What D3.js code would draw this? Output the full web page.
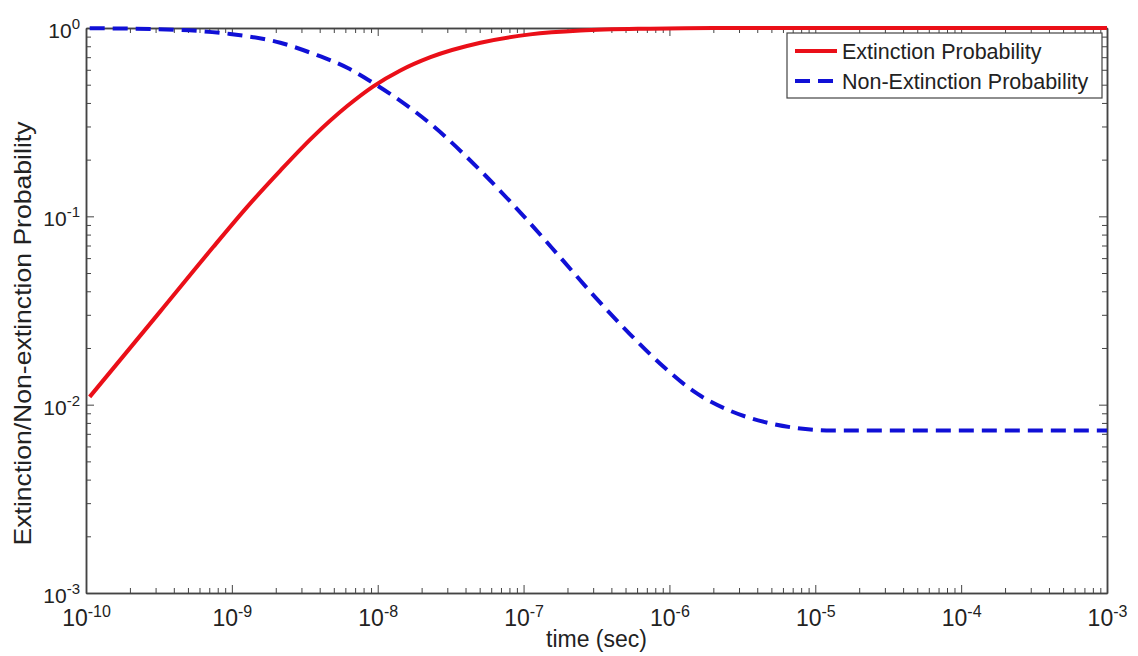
<!DOCTYPE html>
<html>
<head>
<meta charset="utf-8">
<script src="https://cdn.jsdelivr.net/npm/d3@7"></script>
<style>
  body { margin: 0; background: #fff; }
  svg text { font-family: "Liberation Sans", Arial, sans-serif; fill: #222; }
</style>
</head>
<body>
<svg id="chart"></svg>
<script>
// values (time in seconds, probability)
let extTime = [1.06e-10, 3.2e-10, 7.45e-10, 1.27e-9, 2.15e-9, 3.61e-9, 6.18e-9, 9.33e-9, 1.43e-8, 2.30e-8, 5.06e-8, 1.11e-7, 2.46e-7, 7.4e-7, 2e-6, 1e-3]
let extProb = [0.011, 0.031, 0.0687, 0.112, 0.175, 0.265, 0.385, 0.49, 0.595, 0.70, 0.835, 0.925, 0.97, 0.992, 1, 1]

let nonTime = [1.06e-10, 4.42e-10, 9.73e-10, 2.15e-9, 3.61e-9, 6.18e-9, 9.33e-9, 1.43e-8, 2.30e-8, 5.06e-8, 1.11e-7, 1.88e-7, 3.21e-7, 5.42e-7, 9.12e-7, 1.56e-6, 2.63e-6, 4.44e-6, 7.59e-6, 1.3e-5, 1e-3]
let nonProb = [0.998, 0.976, 0.93, 0.835, 0.73, 0.615, 0.51, 0.41, 0.31, 0.175, 0.0918, 0.0578, 0.0361, 0.0235, 0.0159, 0.0114, 0.00925, 0.0081, 0.0075, 0.0073, 0.0073]

let xExponents = [-10, -9, -8, -7, -6, -5, -4, -3]
let yExponents = [-3, -2, -1, 0]

let seriesNames = ["Extinction Probability", "Non-Extinction Probability"]

function getConfig() {
  let width = 1138, height = 656
  let margin = { top: 28, bottom: 63, left: 86, right: 31 }
  let bodyWidth = width - margin.left - margin.right
  let bodyHeight = height - margin.top - margin.bottom
  let container = d3.select("#chart").attr("width", width).attr("height", height)
  return { width, height, margin, bodyWidth, bodyHeight, container }
}

function getScales(config) {
  let xScale = d3.scaleLog().domain([1e-10, 1e-3]).range([0, config.bodyWidth])
  let yScale = d3.scaleLog().domain([1e-3, 1]).range([config.bodyHeight, 0])
  return { xScale, yScale }
}

// minor ticks 2..9 in every decade
function minorTicks(exps) {
  let out = []
  for (let i = 0; i < exps.length - 1; i++)
    for (let k = 2; k <= 9; k++) out.push(k * Math.pow(10, exps[i]))
  return out
}

// turn the tick labels into 10 with a raised exponent
function supLabel(sel, exps, size) {
  sel.selectAll(":scope > .tick text").each(function(d, i) {
    let t = d3.select(this).text("")
    t.append("tspan").text("10")
    t.append("tspan").attr("dy", "-0.6em").attr("font-size", size).text(exps[i])
  })
}

function drawAxes(config, scales) {
  let { margin, container, bodyWidth, bodyHeight } = config
  let { xScale, yScale } = scales
  let g = container.append("g").attr("transform", `translate(${margin.left},${margin.top})`)
  let axisColor = "#444"
  let xMajor = xExponents.map(e => Math.pow(10, e))
  let yMajor = yExponents.map(e => Math.pow(10, e))

  // bottom
  let bx = g.append("g").attr("transform", `translate(0,${bodyHeight})`)
    .call(d3.axisBottom(xScale).tickValues(xMajor).tickSizeInner(-8).tickSizeOuter(0).tickPadding(17))
  supLabel(bx, xExponents, 16)
  bx.selectAll(":scope > .tick text").attr("font-size", 23)
  bx.append("g").call(d3.axisBottom(xScale).tickValues(minorTicks(xExponents)).tickSizeInner(-5).tickSizeOuter(0).tickFormat(""))

  // top
  let tx = g.append("g")
    .call(d3.axisTop(xScale).tickValues(xMajor).tickSizeInner(-8).tickSizeOuter(0).tickFormat(""))
  tx.append("g").call(d3.axisTop(xScale).tickValues(minorTicks(xExponents)).tickSizeInner(-5).tickSizeOuter(0).tickFormat(""))

  // left
  let ly = g.append("g")
    .call(d3.axisLeft(yScale).tickValues(yMajor).tickSizeInner(-8).tickSizeOuter(0).tickPadding(6))
  supLabel(ly, yExponents, 15)
  ly.selectAll(":scope > .tick text").attr("font-size", 21).attr("dy", "0.45em")
  ly.append("g").call(d3.axisLeft(yScale).tickValues(minorTicks(yExponents)).tickSizeInner(-5).tickSizeOuter(0).tickFormat(""))

  // right
  let ry = g.append("g").attr("transform", `translate(${bodyWidth},0)`)
    .call(d3.axisRight(yScale).tickValues(yMajor).tickSizeInner(-8).tickSizeOuter(0).tickFormat(""))
  ry.append("g").call(d3.axisRight(yScale).tickValues(minorTicks(yExponents)).tickSizeInner(-5).tickSizeOuter(0).tickFormat(""))

  g.selectAll(".domain").attr("stroke", axisColor).attr("stroke-width", 1.5)
  g.selectAll(".tick line").attr("stroke", axisColor)

  // axis titles
  container.append("text")
    .attr("x", margin.left + bodyWidth / 2).attr("y", 647)
    .attr("text-anchor", "middle").attr("font-size", 23)
    .text("time (sec)")
  container.append("text")
    .attr("transform", `translate(31,${margin.top + bodyHeight / 2 + 23}) rotate(-90)`)
    .attr("text-anchor", "middle").attr("font-size", 24)
    .attr("textLength", 424).attr("lengthAdjust", "spacingAndGlyphs")
    .text("Extinction/Non-extinction Probability")
  return g
}

function drawLines(g, scales) {
  let { xScale, yScale } = scales
  let line = d3.line().x(d => xScale(d[0])).y(d => yScale(d[1])).curve(d3.curveMonotoneX)

  g.append("path")
    .datum(extTime.map((t, i) => [t, extProb[i]]))
    .attr("d", line).attr("fill", "none")
    .attr("stroke", "#ea0f18").attr("stroke-width", 4)

  g.append("path")
    .datum(nonTime.map((t, i) => [t, nonProb[i]]))
    .attr("d", line).attr("fill", "none")
    .attr("stroke", "#1010d6").attr("stroke-width", 4)
    .attr("stroke-dasharray", "15,8")
}

function drawLegend(g, config) {
  let lx = 787 - config.margin.left, ly = 33 - config.margin.top
  let lg = g.append("g").attr("transform", `translate(${lx},${ly})`)
  lg.append("rect").attr("width", 315).attr("height", 65)
    .attr("fill", "#fff").attr("stroke", "#444").attr("stroke-width", 1.2)
  let styles = [{ c: "#ea0f18", dash: null }, { c: "#1010d6", dash: "15,8" }]
  seriesNames.forEach((name, i) => {
    let y = 18 + i * 30
    lg.append("line").attr("x1", 8).attr("x2", 50).attr("y1", y).attr("y2", y)
      .attr("stroke", styles[i].c).attr("stroke-width", 4)
      .attr("stroke-dasharray", styles[i].dash)
    lg.append("text").attr("x", 55).attr("y", y + 7.5).attr("font-size", 21.5).text(name)
  })
}

let config = getConfig()
let scales = getScales(config)
let g = drawAxes(config, scales)
drawLines(g, scales)
drawLegend(g, config)
</script>
</body>
</html>
